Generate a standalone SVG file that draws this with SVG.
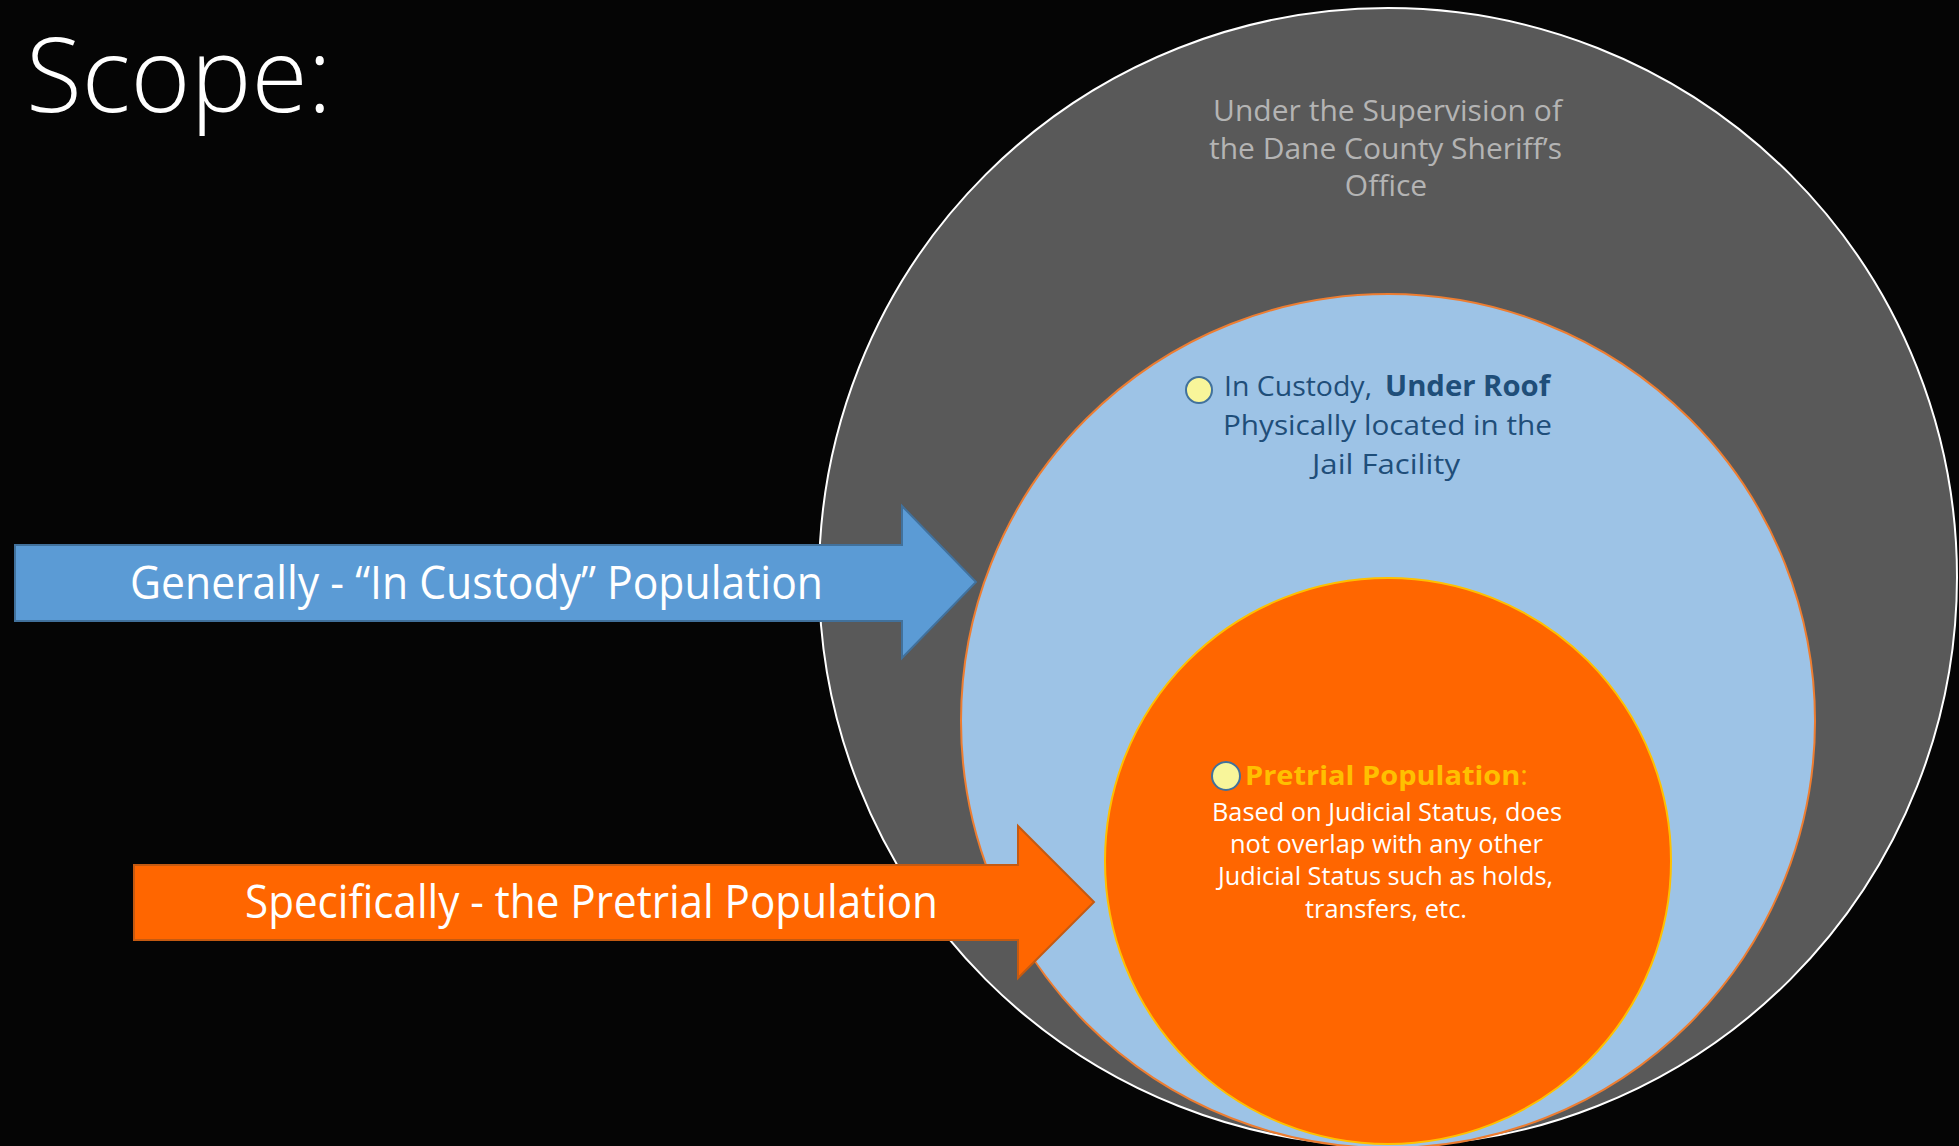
<svg xmlns="http://www.w3.org/2000/svg" width="1959" height="1146" viewBox="0 0 1959 1146">
<style>
text{font-family:"Open Sans","Liberation Sans",sans-serif}
.gray{fill:#B4B4B4;font-size:30px}
.navy{fill:#1F4E79;font-size:28px}
.wht{fill:#FFFFFF;font-size:25px}
.arr{fill:#FFFFFF;font-size:46px}
.bul{fill:#F8F59A;stroke:#41719C;stroke-width:2}
</style>
<rect x="0" y="0" width="1959" height="1146" fill="#050505"/>
<text x="26" y="112" fill="#FFFFFF" font-size="103" font-weight="300" textLength="306" lengthAdjust="spacingAndGlyphs">Scope:</text>
<g id="outer">
<circle cx="1388" cy="577" r="569" fill="#595959" stroke="#FFFFFF" stroke-width="2"/>
<text class="gray" x="1213" y="121" textLength="349" lengthAdjust="spacing">Under the Supervision of</text>
<text class="gray" x="1209" y="159" textLength="353" lengthAdjust="spacing">the Dane County Sheriff’s</text>
<text class="gray" x="1386" y="196" text-anchor="middle">Office</text>
</g>
<g id="custody">
<circle cx="1388" cy="721" r="427" fill="#9DC3E6" stroke="#ED7D31" stroke-width="2"/>
<circle class="bul" cx="1199" cy="390" r="13"/>
<text class="navy" x="1224" y="396" textLength="148" lengthAdjust="spacingAndGlyphs">In Custody,</text>
<text class="navy" x="1385" y="396" font-weight="bold" textLength="165" lengthAdjust="spacingAndGlyphs">Under Roof</text>
<text class="navy" x="1223" y="435" textLength="329" lengthAdjust="spacingAndGlyphs">Physically located in the</text>
<text class="navy" x="1312" y="474" textLength="148" lengthAdjust="spacingAndGlyphs">Jail Facility</text>
</g>
<g id="pretrial">
<circle cx="1388" cy="861" r="283" fill="#FF6600" stroke="#FFC000" stroke-width="2"/>
<circle class="bul" cx="1226" cy="776" r="14"/>
<text x="1245" y="785" fill="#FFC000" font-size="27" font-weight="bold" textLength="283" lengthAdjust="spacingAndGlyphs">Pretrial Population<tspan font-weight="normal">:</tspan></text>
<text class="wht" x="1212" y="821" textLength="350" lengthAdjust="spacingAndGlyphs">Based on Judicial Status, does</text>
<text class="wht" x="1230" y="853" textLength="313" lengthAdjust="spacingAndGlyphs">not overlap with any other</text>
<text class="wht" x="1218" y="885" textLength="335" lengthAdjust="spacingAndGlyphs">Judicial Status such as holds,</text>
<text class="wht" x="1305" y="918" textLength="162" lengthAdjust="spacingAndGlyphs">transfers, etc.</text>
</g>
<g id="connectors">
<g id="arrow-general">
<polygon points="15,545 902,545 902,506 976,582 902,658 902,621 15,621" fill="#5B9BD5" stroke="#41719C" stroke-width="2"/>
<text class="arr" x="130" y="599" textLength="693" lengthAdjust="spacingAndGlyphs">Generally - “In Custody” Population</text>
</g>
<g id="arrow-specific">
<polygon points="134,865 1018,865 1018,826 1094,902 1018,978 1018,940 134,940" fill="#FF6600" stroke="#C55A11" stroke-width="2"/>
<text class="arr" x="245" y="918" textLength="693" lengthAdjust="spacingAndGlyphs">Specifically - the Pretrial Population</text>
</g>
</g>
</svg>
